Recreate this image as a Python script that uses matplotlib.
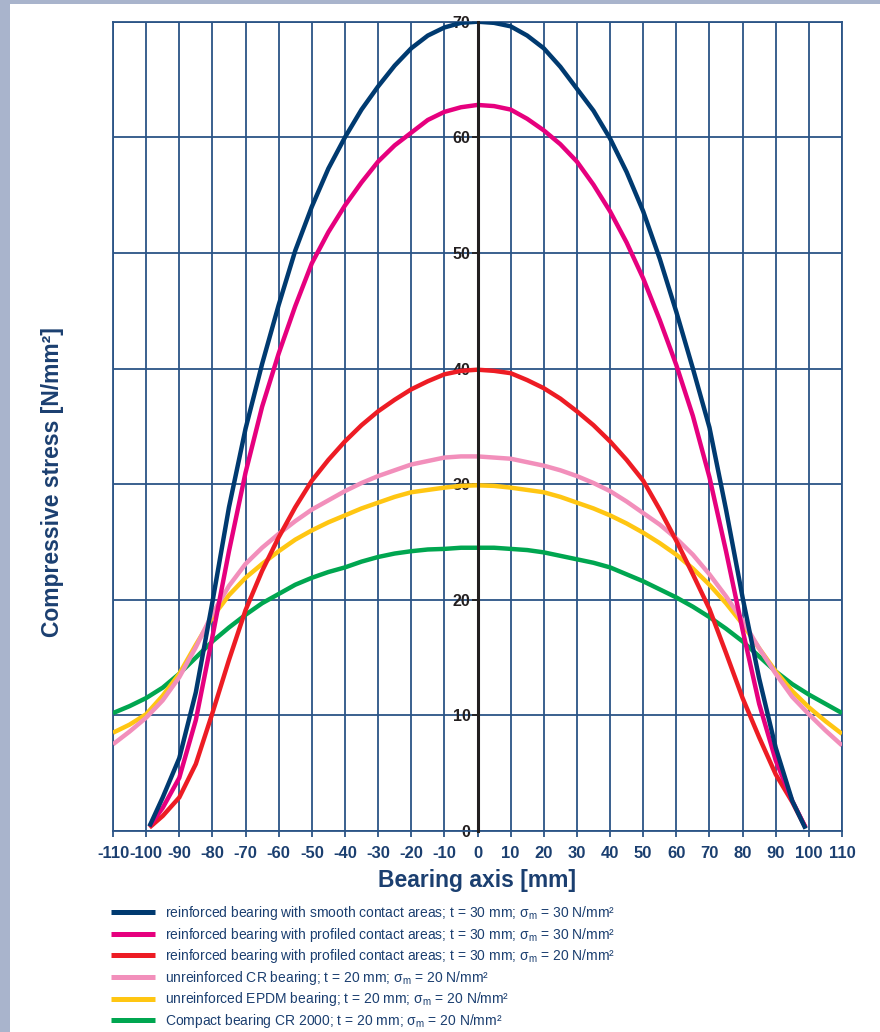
import matplotlib
matplotlib.use("Agg")
import matplotlib.pyplot as plt
from matplotlib.lines import Line2D
from matplotlib.patches import Rectangle

plt.rcParams['font.family'] = ['Liberation Sans', 'DejaVu Sans']
plt.rcParams['mathtext.fontset'] = 'custom'
plt.rcParams['mathtext.rm'] = 'Liberation Sans'
plt.rcParams['mathtext.it'] = 'Liberation Sans'
plt.rcParams['mathtext.default'] = 'regular'
plt.rcParams['axes.unicode_minus'] = False

# ---------------- data ----------------
x_reinf = [-99, -95, -90, -85, -80, -75, -70, -65, -60, -55, -50, -45, -40, -35, -30, -25, -20, -15, -10, -5,
           0, 5, 10, 15, 20, 25, 30, 35, 40, 45, 50, 55, 60, 65, 70, 75, 80, 85, 90, 95, 99]
smooth_30 = [0.4, 2.9, 6.3, 12.0, 19.8, 28.0, 34.8, 40.4, 45.5, 50.2, 54.0, 57.3, 60.0, 62.4, 64.4, 66.2, 67.7, 68.8, 69.5, 69.9,
             70.0, 69.9, 69.6, 68.8, 67.7, 66.1, 64.2, 62.3, 59.9, 57.0, 53.6, 49.5, 44.9, 40.0, 34.9, 27.8, 20.2, 13.2, 7.2, 2.6, 0.2]
profiled_30 = [0.4, 2.0, 4.6, 9.6, 16.8, 24.2, 31.0, 36.7, 41.3, 45.4, 49.1, 51.8, 54.1, 56.1, 57.9, 59.3, 60.4, 61.5, 62.2, 62.6,
               62.8, 62.7, 62.4, 61.6, 60.6, 59.4, 57.9, 55.9, 53.6, 50.9, 47.8, 44.2, 40.3, 35.9, 30.6, 24.2, 17.4, 11.0, 6.1, 2.6, 0.3]
profiled_20 = [0.3, 1.3, 2.9, 5.8, 10.2, 14.8, 19.1, 22.5, 25.4, 28.0, 30.3, 32.1, 33.7, 35.1, 36.3, 37.3, 38.2, 38.9, 39.5, 39.8,
               39.9, 39.8, 39.6, 39.0, 38.3, 37.4, 36.3, 35.1, 33.7, 32.1, 30.3, 27.8, 25.1, 22.2, 19.2, 15.4, 11.5, 8.1, 4.9, 2.5, 0.3]

x_unreinf = [-110, -105, -100, -95, -90, -85, -80, -75, -70, -65, -60, -55, -50, -45, -40, -35, -30, -25, -20, -15, -10, -5,
             0, 5, 10, 15, 20, 25, 30, 35, 40, 45, 50, 55, 60, 65, 70, 75, 80, 85, 90, 95, 100, 105, 110]
cr_20 = [7.5, 8.6, 9.8, 11.3, 13.3, 15.9, 18.8, 21.2, 23.1, 24.5, 25.7, 26.8, 27.8, 28.6, 29.4, 30.1, 30.7, 31.2, 31.7, 32.0, 32.3, 32.4,
         32.4, 32.3, 32.2, 31.9, 31.6, 31.2, 30.7, 30.1, 29.4, 28.5, 27.5, 26.5, 25.3, 23.9, 22.2, 20.3, 18.2, 15.8, 13.6, 11.6, 10.1, 8.7, 7.4]
epdm_20 = [8.5, 9.2, 10.1, 11.7, 13.6, 16.1, 18.5, 20.4, 21.9, 23.1, 24.2, 25.2, 26.0, 26.7, 27.3, 27.9, 28.4, 28.9, 29.3, 29.5, 29.7, 29.85,
           29.9, 29.85, 29.7, 29.5, 29.3, 28.9, 28.4, 27.9, 27.3, 26.6, 25.8, 24.9, 23.9, 22.7, 21.3, 19.7, 17.9, 15.8, 13.8, 12.1, 10.7, 9.5, 8.4]
compact_20 = [10.2, 10.8, 11.5, 12.4, 13.6, 15.0, 16.4, 17.6, 18.7, 19.7, 20.5, 21.3, 21.9, 22.4, 22.8, 23.3, 23.7, 24.0, 24.2, 24.35, 24.4, 24.5,
              24.5, 24.5, 24.4, 24.3, 24.1, 23.8, 23.5, 23.2, 22.8, 22.2, 21.6, 20.9, 20.2, 19.4, 18.5, 17.5, 16.4, 15.1, 13.8, 12.7, 11.8, 11.0, 10.2]

labels = [
    "reinforced bearing with smooth contact areas; t = 30 mm; \u03c3$_{m}$ = 30 N/mm\u00b2",
    "reinforced bearing with profiled contact areas; t = 30 mm; \u03c3$_{m}$ = 30 N/mm\u00b2",
    "reinforced bearing with profiled contact areas; t = 30 mm; \u03c3$_{m}$ = 20 N/mm\u00b2",
    "unreinforced CR bearing; t = 20 mm; \u03c3$_{m}$ = 20 N/mm\u00b2",
    "unreinforced EPDM bearing; t = 20 mm; \u03c3$_{m}$ = 20 N/mm\u00b2",
    "Compact bearing CR 2000; t = 20 mm; \u03c3$_{m}$ = 20 N/mm\u00b2",
]
colors = ['#003a70', '#e6007e', '#ed1c24', '#f28fbb', '#ffc612', '#00a650']

x_ticks = list(range(-110, 111, 10))
y_ticks = list(range(0, 71, 10))

# ---------------- figure ----------------
W, H = 880, 1032
fig = plt.figure(figsize=(W / 100, H / 100), dpi=100)
fig.patch.set_facecolor('white')
strip = '#a9b4cc'
fig.add_artist(Rectangle((0, 0), 10 / W, 1, transform=fig.transFigure, color=strip, lw=0))
fig.add_artist(Rectangle((0, 1 - 4 / H), 1, 4 / H, transform=fig.transFigure, color=strip, lw=0))

left, right, top, bottom = 113, 842, 21.7, 831
ax = fig.add_axes([left / W, 1 - bottom / H, (right - left) / W, (bottom - top) / H])
ax.set_xlim(-110, 110)
ax.set_ylim(0, 70)

grid_c = '#2b5486'
ax.set_xticks(x_ticks)
ax.set_yticks(y_ticks)
ax.grid(True, color=grid_c, lw=1.3)
ax.set_axisbelow(True)
for v in (-110, 110):
    ax.axvline(v, color=grid_c, lw=1.3, clip_on=False, zorder=1)
ax.axhline(70, color=grid_c, lw=1.3, clip_on=False, zorder=1)

for s in ('top', 'right'):
    ax.spines[s].set_visible(False)
ax.spines['bottom'].set_color(grid_c)
ax.spines['bottom'].set_linewidth(1.3)
ax.spines['left'].set_position(('data', 0))
ax.spines['left'].set_color('#231f20')
ax.spines['left'].set_linewidth(2.2)
ax.spines['left'].set_zorder(5)

ax.tick_params(axis='x', direction='out', length=4, width=1.3, color=grid_c,
               labelcolor='#1b3f70', labelsize=12, pad=7)
ax.tick_params(axis='y', direction='out', length=4, width=1.3, color='#231f20',
               labelcolor='#231f20', labelsize=11.5, pad=1)
for lab in ax.get_xticklabels() + ax.get_yticklabels():
    lab.set_fontweight('bold')

series = [(x_reinf, smooth_30), (x_reinf, profiled_30), (x_reinf, profiled_20),
          (x_unreinf, cr_20), (x_unreinf, epdm_20), (x_unreinf, compact_20)]
handles = []
for i, (xs, ys) in enumerate(series):
    ax.plot(xs, ys, color=colors[i], lw=3.2, solid_capstyle='butt', solid_joinstyle='round',
            zorder=3 + (6 - i) * 0.1)
    handles.append(Line2D([], [], color=colors[i], lw=3.6, solid_capstyle='butt'))

fig.text(477 / W, 1 - 881 / H, 'Bearing axis [mm]', ha='center', va='center',
         fontsize=16.5, fontweight='bold', color='#1b3f70')
fig.text(52 / W, 1 - 482 / H, 'Compressive stress [N/mm\u00b2]', ha='center', va='center',
         rotation=90, fontsize=16.5, fontweight='bold', color='#1b3f70')

leg = fig.legend(handles, labels, loc='upper left', bbox_to_anchor=(111 / W, 1 - 904 / H),
                 frameon=False, fontsize=10, handlelength=3.15, handletextpad=0.75,
                 labelspacing=0.26, borderpad=0, borderaxespad=0)
for t in leg.get_texts():
    t.set_color('#1b3f70')

fig.savefig('out.png', dpi=100, facecolor='white')
